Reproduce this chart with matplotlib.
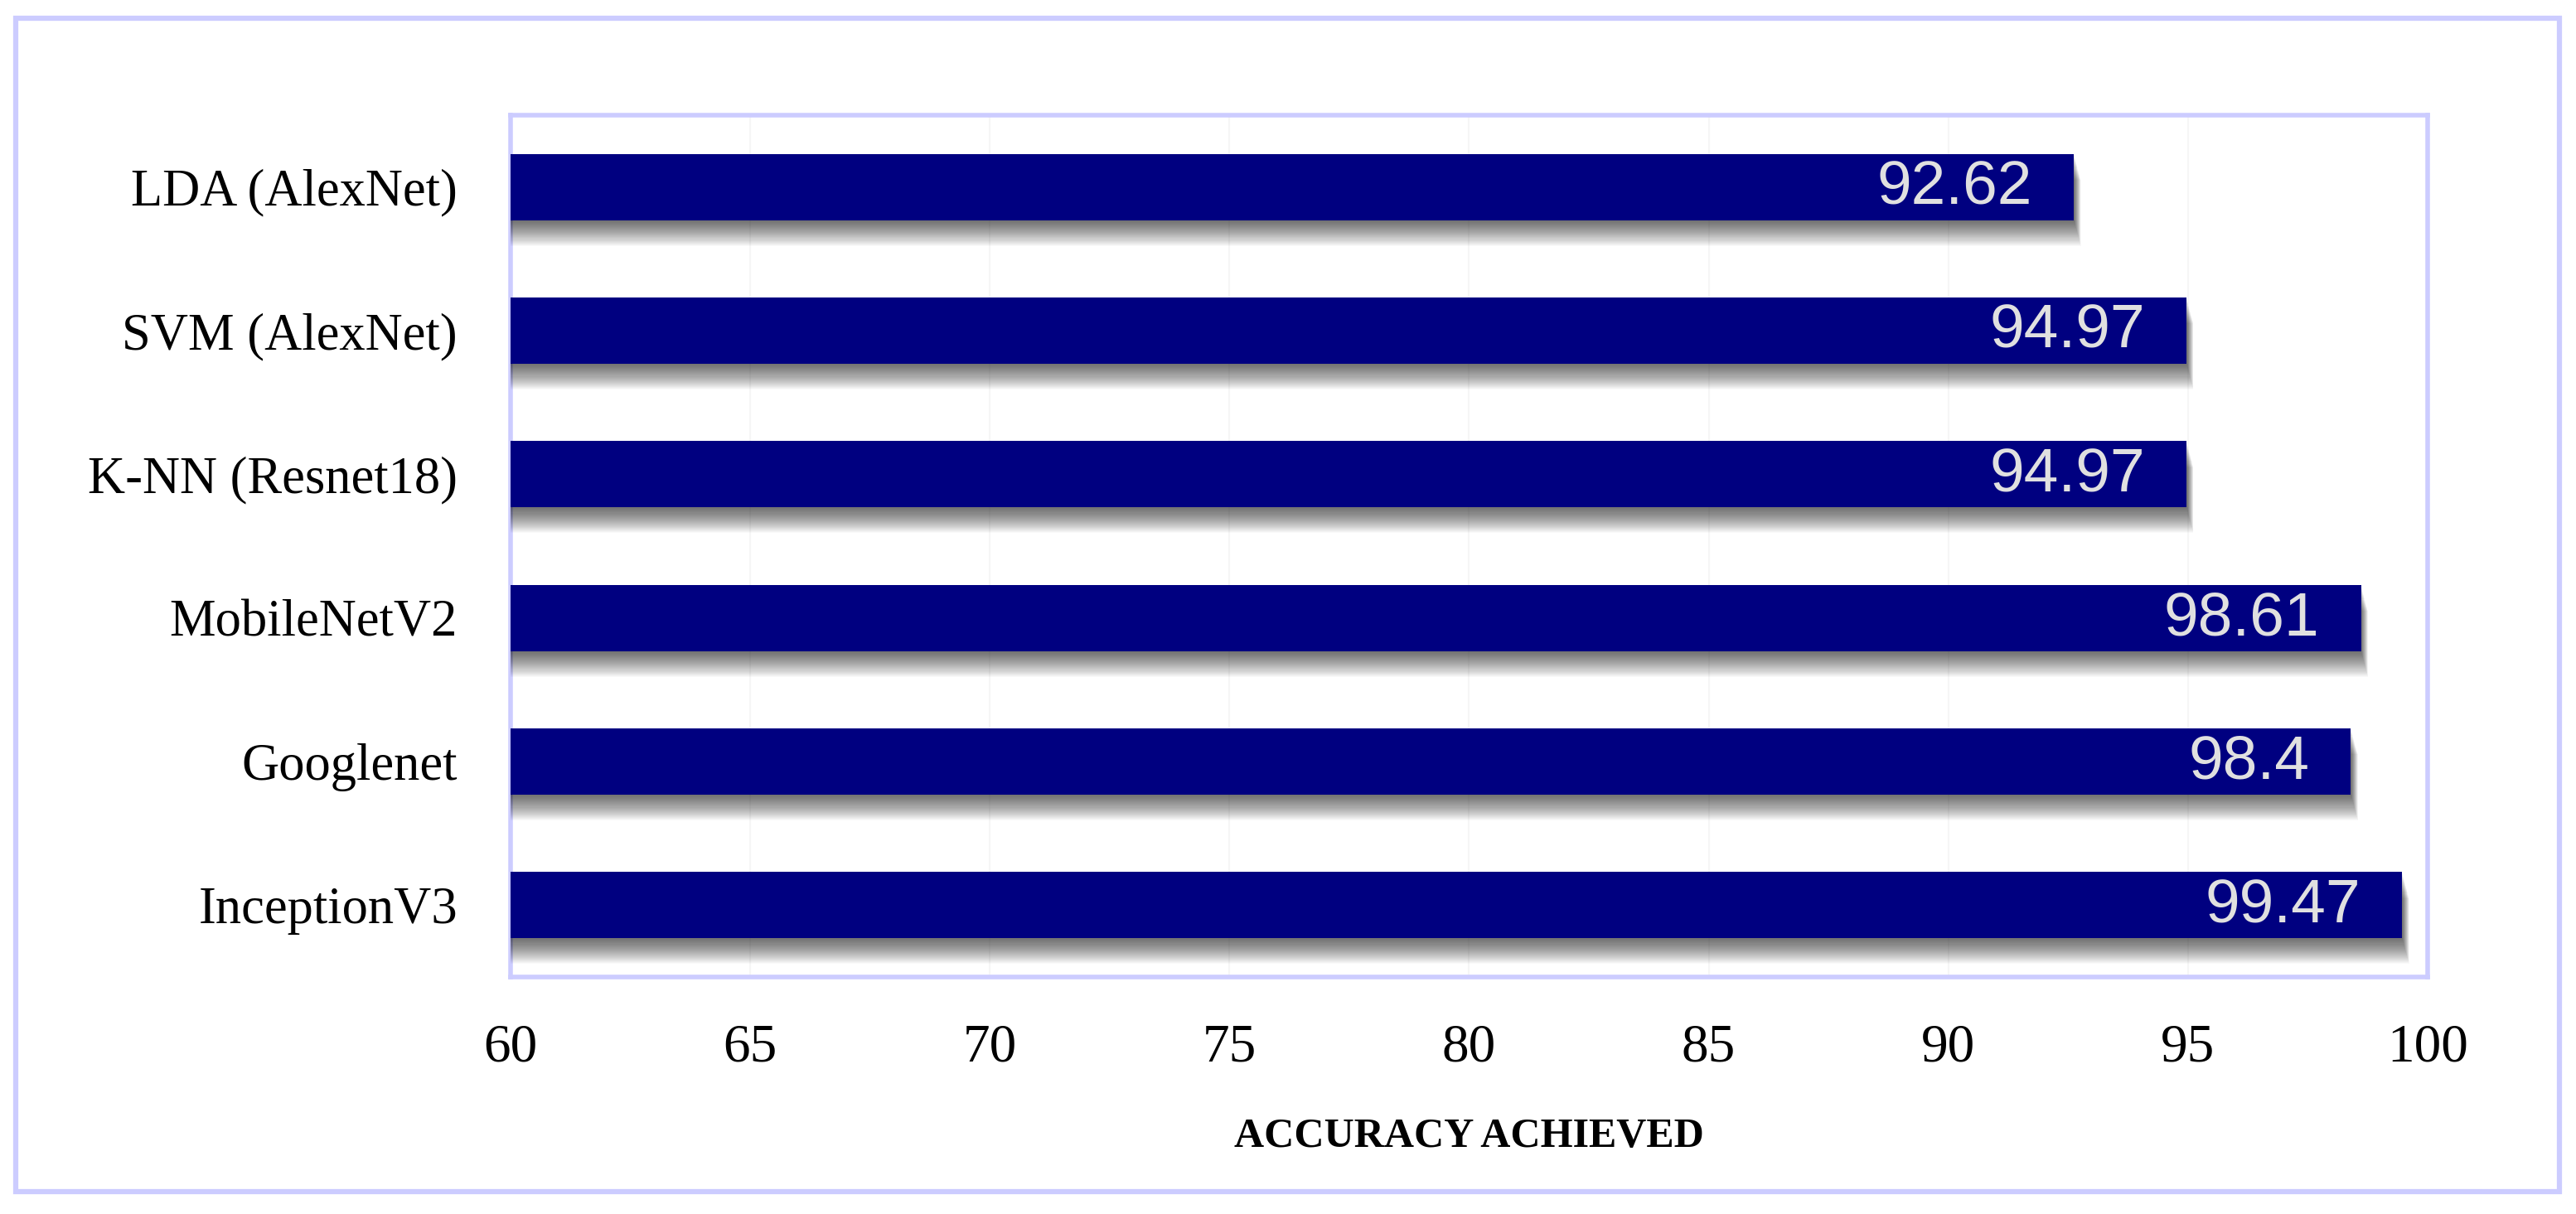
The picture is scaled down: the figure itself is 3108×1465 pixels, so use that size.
import matplotlib
matplotlib.use("Agg")
import matplotlib.pyplot as plt
import matplotlib.patheffects as pe
from matplotlib.patches import Rectangle
import numpy as np

# ---- data ----
categories = ["LDA (AlexNet)", "SVM (AlexNet)", "K-NN (Resnet18)",
              "MobileNetV2", "Googlenet", "InceptionV3"]
accuracy = [92.62, 94.97, 94.97, 98.61, 98.4, 99.47]
value_labels = ["92.62", "94.97", "94.97", "98.61", "98.4", "99.47"]
x_ticks = [60, 65, 70, 75, 80, 85, 90, 95, 100]
x_label = "ACCURACY ACHIEVED"

BORDER = "#ccccff"
BAR = "#000080"

fig = plt.figure(figsize=(31.08, 14.65), dpi=100)
fig.patch.set_facecolor("white")
ax = fig.add_axes([0.1982, 0.1952, 0.9424 - 0.1982, 0.9051 - 0.1952])

pos = np.arange(len(categories))
shadow = [pe.SimplePatchShadow(offset=(0.2 * k, -0.75 * k), shadow_rgbFace="black", alpha=0.024)
          for k in range(1, 31)] + [pe.Normal()]

bars = ax.barh(pos, accuracy, height=0.46, color=BAR, left=0, zorder=3)
for b in bars:
    b.set_path_effects(shadow)

ax.set_xlim(60, 100)
ax.set_ylim(len(categories) - 0.5, -0.5)
ax.set_xticks(x_ticks)
ax.set_xticklabels([str(t) for t in x_ticks], fontfamily="Liberation Serif", fontsize=47)
ax.set_yticks(pos)
ax.set_yticklabels(categories, fontfamily="Liberation Serif", fontsize=45)
ax.tick_params(axis="both", length=0)
ax.tick_params(axis="x", pad=40)
ax.tick_params(axis="y", pad=46)

ax.grid(axis="x", color="#f6f6f6", linewidth=1.5, zorder=0)
ax.set_axisbelow(True)

for s in ax.spines.values():
    s.set_color(BORDER)
    s.set_linewidth(4)

for p, v, lab in zip(pos, accuracy, value_labels):
    ax.annotate(lab, xy=(v, p), xytext=(-36, -1), textcoords="offset points",
                ha="right", va="center", fontfamily="Liberation Sans",
                fontsize=54, color="#e0e0e0", zorder=5)

ax.set_xlabel(x_label, fontfamily="Liberation Serif", fontsize=36,
              fontweight="bold", va="center")
ax.xaxis.set_label_coords(0.5, -0.1856)

# outer frame
fig.patches.append(Rectangle((0.0061, 0.0184), 0.9936 - 0.0061, 0.985 - 0.0184,
                             transform=fig.transFigure, fill=False,
                             edgecolor=BORDER, linewidth=4.5))

fig.savefig("out.png", dpi=100, facecolor="white")
